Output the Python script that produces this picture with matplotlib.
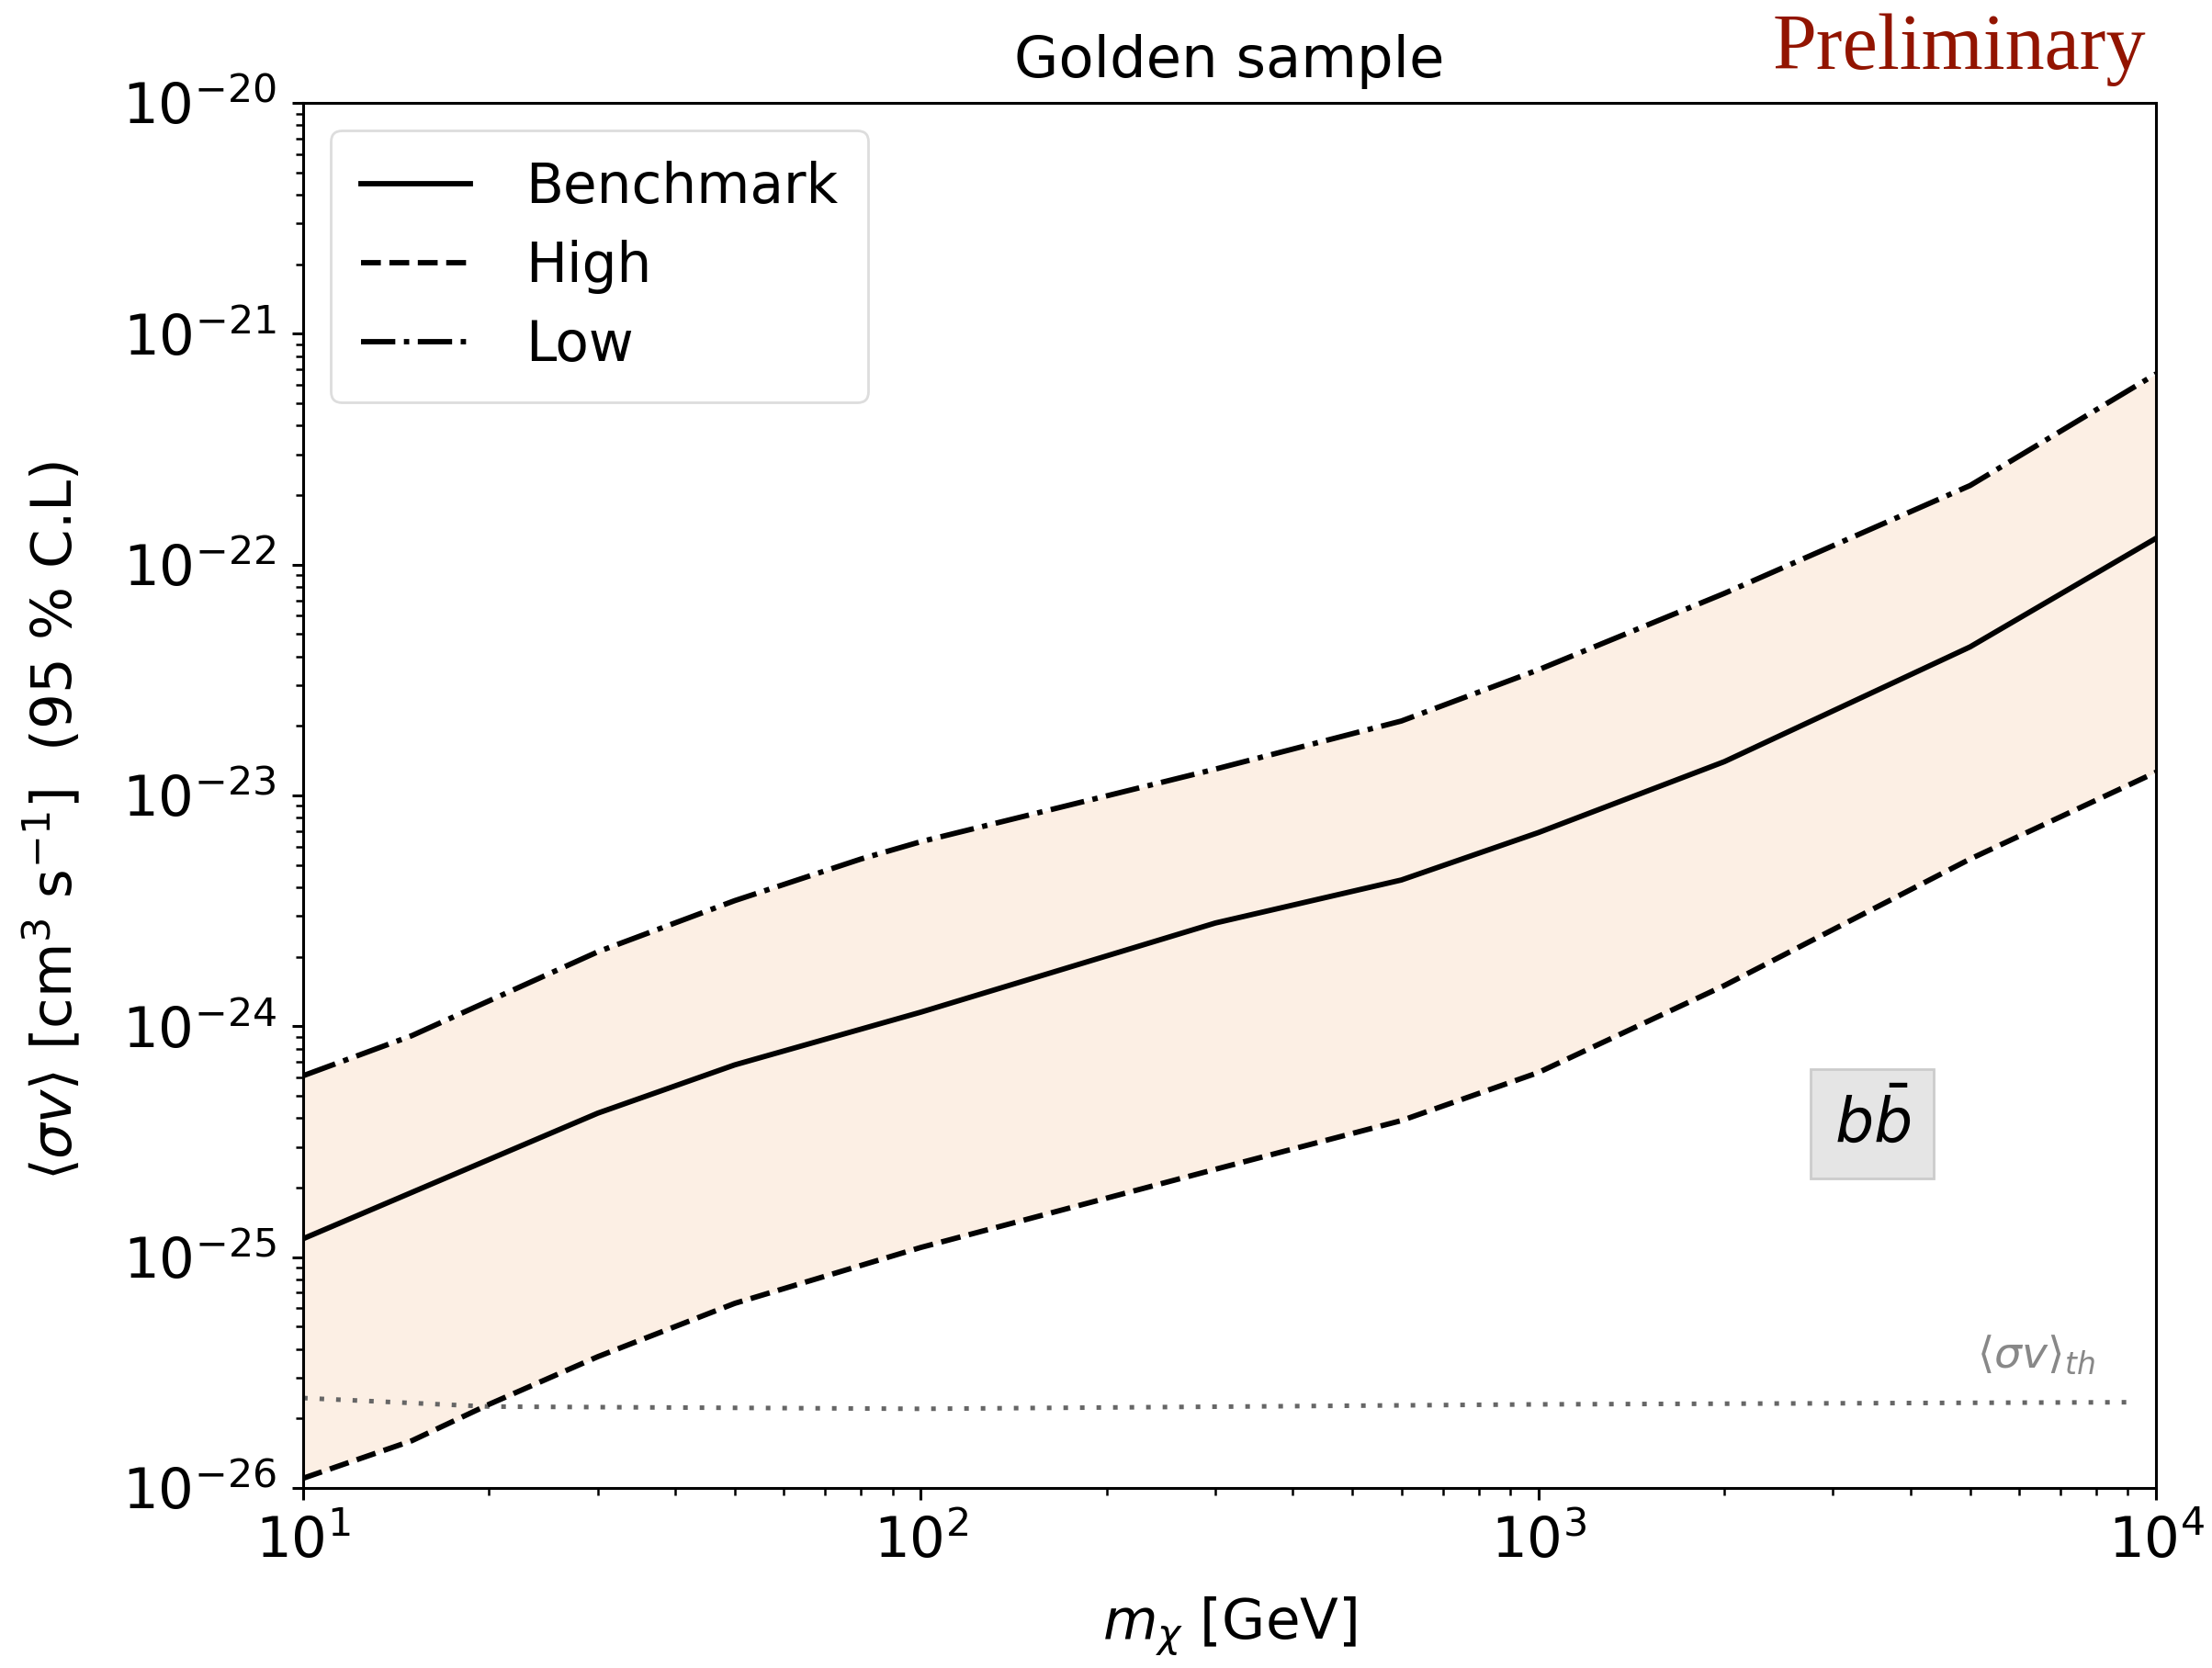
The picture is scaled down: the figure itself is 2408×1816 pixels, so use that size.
import numpy as np
import matplotlib
matplotlib.use('Agg')
import matplotlib.pyplot as plt
from matplotlib.ticker import NullFormatter

# --------------------------------------------------------------------------------------
# Data

mass_bench = [10, 30, 50, 100, 300, 600, 1000, 2000, 5000, 10000]
sv_bench   = [1.2e-25, 4.2e-25, 6.8e-25, 1.15e-24, 2.8e-24, 4.3e-24, 6.9e-24, 1.4e-23, 4.4e-23, 1.3e-22]

mass_high  = [10, 15, 20, 30, 50, 100, 300, 600, 1000, 2000, 5000, 10000]
sv_high    = [1.1e-26, 1.6e-26, 2.3e-26, 3.7e-26, 6.3e-26, 1.1e-25, 2.4e-25, 3.9e-25,
              6.3e-25, 1.5e-24, 5.3e-24, 1.26e-23]

mass_low   = [10, 15, 30, 50, 80, 100, 300, 600, 800, 1000, 2000, 5000, 10000]
sv_low     = [6.1e-25, 9.1e-25, 2.1e-24, 3.5e-24, 5.3e-24, 6.3e-24, 1.3e-23, 2.1e-23,
              2.8e-23, 3.5e-23, 7.5e-23, 2.2e-22, 6.7e-22]

mass_th    = [10, 20, 100, 1000, 9300]
sv_th      = [2.45e-26, 2.25e-26, 2.2e-26, 2.3e-26, 2.35e-26]

# --------------------------------------------------------------------------------------
# Chart

plt.rcParams['font.family'] = 'DejaVu Sans'
plt.rcParams['mathtext.fontset'] = 'dejavusans'

fig = plt.figure(figsize=(12.04, 9.08), dpi=200)
ax = fig.add_axes([0.137, 0.108, 0.8377, 0.8303])

# band between high and low, on a common grid
grid = np.array(mass_low, dtype=float)
high_on_grid = np.exp(np.interp(np.log(grid), np.log(mass_high), np.log(sv_high)))
ax.fill_between(grid, high_on_grid, sv_low, color='#fcefe4', lw=0, zorder=1)

ax.plot(mass_bench, sv_bench, color='black', lw=2.1, ls='-', label='Benchmark', zorder=3)
ax.plot(mass_high, sv_high, color='black', lw=2.1, ls='--', label='High', zorder=3)
ax.plot(mass_low, sv_low, color='black', lw=2.1, ls='-.', label='Low', zorder=3)
ax.plot(mass_th, sv_th, color='#666666', lw=1.8, ls=(0, (1, 2.6)), zorder=2)

ax.set_xscale('log')
ax.set_yscale('log')
ax.set_xlim(10, 1e4)
ax.set_ylim(1e-26, 1e-20)
ax.xaxis.set_minor_formatter(NullFormatter())
ax.yaxis.set_minor_formatter(NullFormatter())

for s in ax.spines.values():
    s.set_linewidth(1.1)
ax.tick_params(which='major', labelsize=22, length=4.5, width=1.1, pad=6)
ax.tick_params(which='minor', length=2.8, width=0.9, labelleft=False, labelbottom=False)

ax.set_xlabel(r'$m_\chi$ [GeV]', fontsize=22, labelpad=10)
ax.set_ylabel(r'$\langle\sigma v\rangle$ [cm$^3$ s$^{-1}$]  (95 % C.L)', fontsize=22)
ax.yaxis.set_label_coords(-0.118, 0.482)
ax.set_title('Golden sample', fontsize=22.5, pad=10)

leg = ax.legend(loc='upper left', fontsize=21.5, handlelength=2.0, borderpad=0.55,
                labelspacing=0.45, handletextpad=1.0, fancybox=True, framealpha=1)
leg.get_frame().set_edgecolor('#dddddd')
leg.get_frame().set_linewidth(1.0)

ax.text(0.847, 0.263, r'$b\bar{b}$', transform=ax.transAxes, fontsize=24,
        ha='center', va='center',
        bbox=dict(boxstyle='square,pad=0.38', facecolor='#e5e5e5', edgecolor='#cccccc'))

ax.text(0.967, 0.08, r'$\langle\sigma v\rangle_{th}$', transform=ax.transAxes,
        fontsize=17, color='#888888', ha='right', va='bottom')

fig.text(0.97, 0.97, 'Preliminary', family='Liberation Serif', fontsize=31,
         color='#921400', ha='right', va='center')

plt.savefig('out.png', dpi=200)
